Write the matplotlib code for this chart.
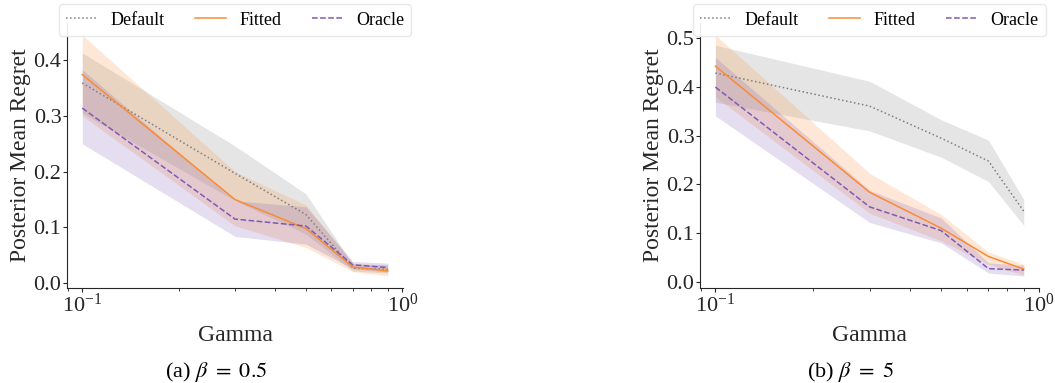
import matplotlib
matplotlib.use("Agg")
import matplotlib.pyplot as plt
from matplotlib.ticker import MultipleLocator

plt.rcParams['font.family'] = ['Liberation Serif', 'DejaVu Serif']
plt.rcParams['mathtext.fontset'] = 'stix'

# gamma values shared by both panels
gamma = [0.1, 0.3, 0.5, 0.7, 0.9]

# (a) beta = 0.5
a_default = [0.359, 0.197, 0.123, 0.027, 0.025]
a_default_lo = [0.305, 0.148, 0.088, 0.022, 0.018]
a_default_hi = [0.413, 0.246, 0.160, 0.034, 0.033]
a_fitted = [0.374, 0.150, 0.098, 0.029, 0.022]
a_fitted_lo = [0.300, 0.103, 0.064, 0.021, 0.013]
a_fitted_hi = [0.445, 0.200, 0.140, 0.036, 0.032]
a_oracle = [0.314, 0.115, 0.1025, 0.033, 0.028]
a_oracle_lo = [0.250, 0.084, 0.070, 0.026, 0.020]
a_oracle_hi = [0.383, 0.148, 0.137, 0.039, 0.036]

# (b) beta = 5
b_default = [0.429, 0.361, 0.295, 0.248, 0.145]
b_default_lo = [0.369, 0.310, 0.256, 0.206, 0.116]
b_default_hi = [0.486, 0.412, 0.333, 0.291, 0.169]
b_fitted = [0.443, 0.184, 0.110, 0.052, 0.026]
b_fitted_lo = [0.380, 0.141, 0.084, 0.036, 0.014]
b_fitted_hi = [0.507, 0.223, 0.138, 0.061, 0.036]
b_oracle = [0.400, 0.154, 0.105, 0.027, 0.024]
b_oracle_lo = [0.341, 0.122, 0.080, 0.018, 0.012]
b_oracle_hi = [0.461, 0.188, 0.131, 0.039, 0.034]

names = ["Default", "Fitted", "Oracle"]
colors = ["#7f7f7f", "#fb8b33", "#7e5ab4"]
styles = [":", "-", "--"]

panels = [
    ([a_default, a_fitted, a_oracle],
     [a_default_lo, a_fitted_lo, a_oracle_lo],
     [a_default_hi, a_fitted_hi, a_oracle_hi],
     r"(a) $\beta\ =\ 0.5$"),
    ([b_default, b_fitted, b_oracle],
     [b_default_lo, b_fitted_lo, b_oracle_lo],
     [b_default_hi, b_fitted_hi, b_oracle_hi],
     r"(b) $\beta\ =\ 5$"),
]

fig = plt.figure(figsize=(10.55, 3.83), dpi=100)
boxes = [[0.0635, 0.248, 0.3185, 0.692], [0.6635, 0.248, 0.3215, 0.692]]
caption_x = [0.205, 0.806]

for box, (means, lows, highs, caption), cx in zip(boxes, panels, caption_x):
    ax = fig.add_axes(box)
    for name, m, lo, hi, c, ls in zip(names, means, lows, highs, colors, styles):
        ax.fill_between(gamma, lo, hi, color=c, alpha=0.2, linewidth=0)
        ax.plot(gamma, m, color=c, linestyle=ls, linewidth=1.1, label=name)
    ax.set_xscale('log')
    ax.yaxis.set_major_locator(MultipleLocator(0.1))
    ax.set_xlabel("Gamma", fontsize=17, color="#262626", labelpad=6)
    ax.set_ylabel("Posterior Mean Regret", fontsize=17, color="#262626", labelpad=2)
    ax.tick_params(axis='both', which='major', labelsize=16, colors="#262626",
                   length=3, pad=1)
    ax.tick_params(axis='x', which='minor', length=2, color="#262626")
    ax.spines['top'].set_visible(False)
    ax.spines['right'].set_visible(False)
    for s in ['left', 'bottom']:
        ax.spines[s].set_color("#262626")
    ax.legend(loc='upper center', bbox_to_anchor=(0.5, 1.07), ncol=3,
              fontsize=13, frameon=True, borderaxespad=0, columnspacing=1.7,
              handlelength=1.7, handletextpad=0.75, edgecolor="#e6e6e6",
              framealpha=0.9)
    fig.text(cx, 0.029, caption, ha='center', va='center', fontsize=16)

fig.savefig("out.png", dpi=100)
